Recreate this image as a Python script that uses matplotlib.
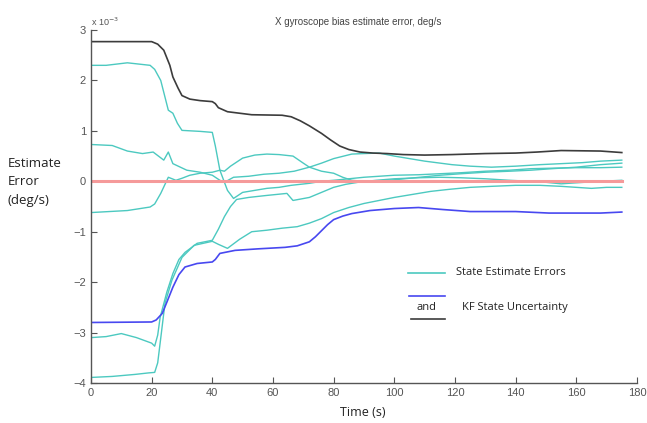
import matplotlib
matplotlib.use("Agg")
import matplotlib.pyplot as plt

# values in units of 1e-3 deg/s
t_hi = [0, 20, 22, 24, 26, 27, 28.7, 30, 32.6, 36, 40, 41, 42, 45, 53, 63, 66, 69, 72, 76, 79, 82, 85, 88.7, 93, 97.6, 103, 110, 119, 130, 140, 147, 155, 168, 175]
v_hi = [2.77, 2.77, 2.72, 2.6, 2.3, 2.07, 1.85, 1.7, 1.63, 1.6, 1.58, 1.54, 1.46, 1.38, 1.32, 1.31, 1.28, 1.2, 1.1, 0.95, 0.82, 0.7, 0.63, 0.58, 0.56, 0.55, 0.53, 0.52, 0.53, 0.55, 0.56, 0.58, 0.61, 0.6, 0.57]

t_lo = [0, 20, 21.5, 23.5, 25, 27, 29, 31, 35, 40, 41, 42.5, 47.5, 55, 64, 68, 72, 74, 76, 78, 80, 83, 86, 92, 100, 108, 116, 125, 140, 151, 168, 175]
v_lo = [-2.8, -2.79, -2.75, -2.62, -2.4, -2.1, -1.85, -1.7, -1.63, -1.6, -1.55, -1.43, -1.37, -1.34, -1.31, -1.28, -1.2, -1.1, -0.98, -0.86, -0.76, -0.69, -0.64, -0.58, -0.54, -0.52, -0.56, -0.6, -0.6, -0.63, -0.63, -0.61]

t_a = [0, 5, 12, 19.5, 21, 23, 25.5, 27, 28.5, 30, 33, 36, 40, 41, 42.5, 45, 47, 50, 54, 58, 62, 66, 72, 76, 80, 85, 90, 95, 100, 108, 115, 122, 130, 138, 145, 152, 160, 168, 175]
v_a = [2.3, 2.3, 2.35, 2.3, 2.22, 2.0, 1.41, 1.35, 1.15, 1.01, 1.0, 0.99, 0.97, 0.7, 0.22, -0.18, -0.34, -0.22, -0.18, -0.14, -0.12, -0.08, -0.04, 0.0, 0.02, 0.05, 0.08, 0.1, 0.12, 0.13, 0.15, 0.17, 0.2, 0.22, 0.25, 0.26, 0.27, 0.27, 0.28]

t_b = [0, 7, 12, 17, 20.5, 24, 25.5, 27, 31.6, 36, 40, 42.5, 44, 47, 52, 57, 62, 67, 72, 76, 80, 86, 90, 95, 100, 104, 110, 119, 125, 132, 140, 148, 155, 162, 168, 175]
v_b = [0.73, 0.71, 0.6, 0.55, 0.58, 0.42, 0.58, 0.35, 0.22, 0.18, 0.12, 0.02, -0.02, 0.08, 0.1, 0.14, 0.16, 0.2, 0.28, 0.36, 0.45, 0.54, 0.55, 0.56, 0.5, 0.46, 0.4, 0.33, 0.3, 0.28, 0.3, 0.33, 0.35, 0.37, 0.4, 0.42]

t_c = [0, 6, 12, 19.5, 21, 23, 25.5, 28, 30, 32.6, 36, 40, 42.5, 44, 46, 50, 54, 58, 62, 66.6, 70, 72, 76, 80, 83, 86, 90, 95, 100, 105, 110, 115, 122, 130, 138, 145, 152, 160, 168, 175]
v_c = [-0.62, -0.6, -0.58, -0.51, -0.45, -0.24, 0.08, 0.02, 0.06, 0.12, 0.16, 0.18, 0.22, 0.2, 0.3, 0.46, 0.52, 0.54, 0.53, 0.5, 0.36, 0.28, 0.2, 0.16, 0.08, 0.02, 0.0, 0.01, 0.03, 0.06, 0.09, 0.12, 0.15, 0.18, 0.2, 0.22, 0.25, 0.28, 0.33, 0.36]

t_d = [0, 5, 10, 15, 20, 21, 22, 22.8, 25, 27, 29, 31, 35, 40, 42, 44, 46, 48, 52, 58, 64.6, 66.6, 72, 76, 80, 84, 88, 94, 100, 108, 115, 122, 130, 138, 145, 150, 155, 160, 168, 175]
v_d = [-3.1, -3.08, -3.02, -3.1, -3.21, -3.27, -3.05, -2.7, -2.2, -1.83, -1.55, -1.41, -1.23, -1.17, -0.95, -0.7, -0.5, -0.36, -0.32, -0.28, -0.24, -0.38, -0.32, -0.22, -0.12, -0.06, -0.02, 0.02, 0.05, 0.07, 0.08, 0.07, 0.05, 0.02, 0.0, -0.02, -0.05, -0.03, 0.0, 0.02]

t_e = [0, 7, 14.5, 19, 21, 22, 22.8, 24.4, 26.7, 30, 34, 40, 42, 45, 49, 53, 58, 63, 68, 72, 76, 80, 85, 90, 95, 100, 106, 112, 118, 125, 132, 140, 148, 155, 160, 165, 170, 175]
v_e = [-3.89, -3.87, -3.83, -3.8, -3.79, -3.6, -3.21, -2.42, -1.96, -1.51, -1.27, -1.19, -1.25, -1.33, -1.15, -1.0, -0.97, -0.93, -0.9, -0.83, -0.74, -0.62, -0.52, -0.44, -0.38, -0.32, -0.26, -0.2, -0.16, -0.12, -0.1, -0.08, -0.08, -0.1, -0.12, -0.14, -0.12, -0.12]

t_zero = [0, 175]
v_zero = [0, 0]

x_ticks = [0, 20, 40, 60, 80, 100, 120, 140, 160, 180]
y_ticks = [-4, -3, -2, -1, 0, 1, 2, 3]

cyan = "#4cc9c0"
blue = "#4848f0"
dark = "#3c3c3c"
red = "#f59a9a"
gray = "#555555"

fig = plt.figure(figsize=(6.47, 4.23), dpi=100)
ax = fig.add_axes([0.1406, 0.0946, 0.8439, 0.8344])

for tt, vv in [(t_a, v_a), (t_b, v_b), (t_c, v_c), (t_d, v_d), (t_e, v_e)]:
    ax.plot(tt, vv, color=cyan, lw=1.0)
ax.plot(t_hi, v_hi, color=dark, lw=1.2)
ax.plot(t_lo, v_lo, color=blue, lw=1.2)
ax.plot(t_zero, v_zero, color=red, lw=2.2)

ax.set_xlim(0, 180)
ax.set_ylim(-4, 3)
ax.set_xticks(x_ticks)
ax.set_yticks(y_ticks)
ax.spines["top"].set_visible(False)
ax.spines["right"].set_visible(False)
for s in ["left", "bottom"]:
    ax.spines[s].set_color(gray)
    ax.spines[s].set_linewidth(1.0)
ax.tick_params(direction="in", length=4, color=gray, labelcolor=gray, labelsize=8)
for lab in ax.get_xticklabels() + ax.get_yticklabels():
    lab.set_family("Liberation Sans")

ax.text(0.0, 1.024, "x 10$^{-3}$", transform=ax.transAxes, fontsize=6.5,
        color=gray, family="Liberation Sans", va="center", ha="left")
ax.text(0.49, 1.024, "X gyroscope bias estimate error, deg/s", transform=ax.transAxes,
        fontsize=7, color="#444444", family="Liberation Sans", ha="center", va="center")

fig.text(0.012, 0.57, "Estimate\nError\n(deg/s)", fontsize=9.5, family="Open Sans",
         color="#222222", ha="left", va="center", linespacing=1.55)
fig.text(0.56, 0.025, "Time (s)", fontsize=9, family="Open Sans", color="#222222",
         ha="center", va="center")

# hand-made legend
ax.plot([0.581, 0.648], [0.312, 0.312], color=cyan, lw=1.2, transform=ax.transAxes)
ax.plot([0.583, 0.648], [0.246, 0.246], color=blue, lw=1.2, transform=ax.transAxes)
ax.plot([0.587, 0.648], [0.181, 0.181], color=dark, lw=1.2, transform=ax.transAxes)
ax.text(0.668, 0.312, "State Estimate Errors", transform=ax.transAxes, fontsize=8,
        family="Open Sans", color="#222222", va="center")
ax.text(0.614, 0.215, "and", transform=ax.transAxes, fontsize=8, family="Open Sans",
        color="#222222", va="center", ha="center")
ax.text(0.68, 0.215, "KF State Uncertainty", transform=ax.transAxes, fontsize=8,
        family="Open Sans", color="#222222", va="center")

fig.savefig("out.png", dpi=100)
